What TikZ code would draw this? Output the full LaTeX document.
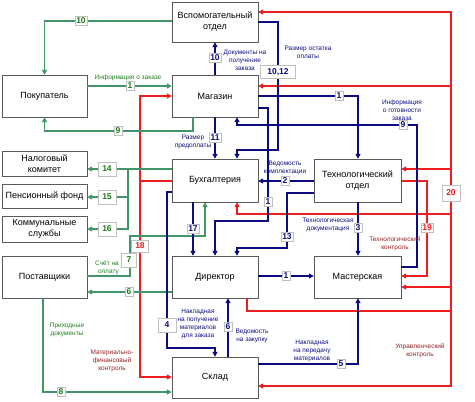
\documentclass[tikz,border=0pt]{standalone}
\usepackage{fontspec}
\setmainfont{Liberation Sans}
\usetikzlibrary{arrows.meta, positioning, calc, shadows}
\definecolor{flowGreen}{RGB}{64, 150, 105}
\definecolor{flowNavy}{RGB}{12, 12, 128}
\definecolor{ctrlRed}{RGB}{238, 30, 30}
\definecolor{numGreen}{RGB}{30, 125, 30}
\definecolor{noteRed}{RGB}{150, 30, 30}

\begin{document}
\begin{tikzpicture}[x=1pt, y=-1pt,
        unitNode/.style={rectangle, draw=black!65, fill=white, minimum width=86pt, minimum height=42pt, align=center, font=\fontsize{9}{11}\selectfont, drop shadow={shadow xshift=1.2pt, shadow yshift=-1.2pt, fill=black!30}},
        smallUnit/.style={unitNode, minimum height=25pt},
        numBox/.style={rectangle, fill=white, draw=black!25, inner sep=1.5pt, font=\bfseries\fontsize{8.5}{9}\selectfont},
        bigBox/.style={numBox, minimum width=18pt, minimum height=14pt},
        noteText/.style={align=center, inner sep=0pt, font=\fontsize{6.5}{7.8}\selectfont},
        flowArrow/.style={-{Triangle[width=5pt, length=5pt]}},
        greenLine/.style={flowGreen, line width=1.3pt},
        navyLine/.style={flowNavy, line width=1.3pt},
        redLine/.style={ctrlRed, line width=1.3pt}
    ]
        \useasboundingbox (0,0) rectangle (475,402);

        % units
        \node[unitNode, minimum height=40pt] (vsp) at (215,22) {Вспомогательный\\отдел};
        \node[unitNode, minimum width=85pt] (pok) at (44.5,96) {Покупатель};
        \node[unitNode] (mag) at (215,96) {Магазин};
        \node[smallUnit, minimum width=85pt] (nal) at (44.5,163.5) {Налоговый\\комитет};
        \node[smallUnit, minimum width=85pt, minimum height=24pt] (pens) at (44.5,196) {Пенсионный фонд};
        \node[smallUnit, minimum width=85pt, minimum height=24pt] (komm) at (44.5,229) {Коммунальные\\службы};
        \node[unitNode, minimum height=43pt] (buh) at (215,180.5) {Бухгалтерия};
        \node[unitNode, minimum width=87pt, minimum height=43pt] (tech) at (357.5,180.5) {Технологический\\отдел};
        \node[unitNode, minimum width=85pt] (post) at (44.5,277) {Поставщики};
        \node[unitNode] (dir) at (215,277) {Директор};
        \node[unitNode, minimum width=87pt] (mast) at (357.5,277) {Мастерская};
        \node[unitNode, minimum height=41pt] (sklad) at (215,377.5) {Склад};

        \coordinate (busX) at (451,0);
        \coordinate (finFork) at (140,181);
        \coordinate (taxFork) at (128,169);

        % control flows
        \draw[redLine, flowArrow] (dir.south -| 247,0) |- (busX |- 0,311) |- (vsp.east |- 0,12);
        \draw[redLine, flowArrow] (busX |- 0,86) -- (mag.east |- 0,86);
        \draw[redLine, flowArrow] (busX |- 0,169) -- (tech.east |- 0,169);
        \draw[redLine, flowArrow] (busX |- 0,214) -| (buh.south -| 237,0);
        \draw[redLine, flowArrow] (busX |- 0,287) -- (mast.east |- 0,287);
        \draw[redLine, flowArrow] (busX |- 0,311) |- (sklad.east |- 0,386);
        \draw[redLine, flowArrow] (tech.east |- 0,181) -| (427,276) -- (mast.east |- 0,276);
        \draw[redLine] (buh.west |- 0,181) -- (finFork);
        \draw[redLine, flowArrow] (finFork) |- (mag.west |- 0,96);
        \draw[redLine, flowArrow] (finFork) |- (sklad.west |- 0,377);

        % document flows
        \draw[greenLine, flowArrow] (vsp.west |- 0,21) -| (pok.north);
        \draw[greenLine, flowArrow] (pok.east |- 0,86) -- (mag.west |- 0,86);
        \draw[greenLine, flowArrow] (mag.south -| 193,0) -- (193,131) -| (pok.south);
        \draw[greenLine, flowArrow] (buh.west |- 0,169) -- (nal.east |- 0,169);
        \draw[greenLine, flowArrow] (taxFork) |- (komm.east |- 0,229);
        \draw[greenLine, flowArrow] (taxFork |- 0,197) -- (pens.east |- 0,197);
        \draw[greenLine, flowArrow] (post.east |- 0,276) -| (130,236) -| (buh.south -| 205,0);
        \draw[greenLine, flowArrow] (dir.west |- 0,292) -- (post.east |- 0,292);
        \draw[greenLine, flowArrow] (post.south -| 43,0) |- (sklad.west |- 0,392);

        \draw[navyLine, flowArrow] (mag.north -| 215,0) -- (vsp.south -| 215,0);
        \draw[navyLine, flowArrow] (mag.east |- 0,96) -| (tech.north -| 358,0);
        \draw[navyLine, flowArrow] (mag.east |- 0,108) -| (268,221) -| (dir.north -| 215,0);
        \draw[navyLine, flowArrow] (vsp.east |- 0,22) -| (278,150) -| (buh.north -| 237,0);
        \draw[navyLine, flowArrow] (mast.east |- 0,267) -| (417,125) -| (mag.south -| 237,0);
        \draw[navyLine, flowArrow] (mag.south -| 215,0) -- (buh.north -| 215,0);
        \draw[navyLine, flowArrow] (tech.west |- 0,181) -- (buh.east |- 0,181);
        \draw[navyLine, flowArrow] (tech.west |- 0,193) -| (287,248) -| (dir.north -| 237,0);
        \draw[navyLine, flowArrow] (tech.south -| 358,0) -- (mast.north -| 358,0);
        \draw[navyLine, flowArrow] (buh.south -| 193,0) -- (dir.north -| 193,0);
        \draw[navyLine, flowArrow] (buh.west |- 0,192) -| (167,348) -| (sklad.north -| 215,0);
        \draw[navyLine, flowArrow] (sklad.north -| 228,0) -- (dir.south -| 228,0);
        \draw[navyLine, flowArrow] (dir.east |- 0,276) -- (mast.west |- 0,276);
        \draw[navyLine, flowArrow] (sklad.east |- 0,364) -| (mast.south -| 358,0);

        % numbers
        \node[numBox, text=numGreen] (g10) at (81,21) {10};
        \node[numBox, text=numGreen] (g1) at (130,86) {1};
        \node[numBox, text=numGreen] (g9) at (118,131) {9};
        \node[bigBox, text=numGreen] (g14) at (107,169) {14};
        \node[bigBox, text=numGreen] (g15) at (107,197) {15};
        \node[bigBox, text=numGreen] (g16) at (107,229) {16};
        \node[bigBox, text=numGreen, minimum width=15pt] (g7) at (129,260) {7};
        \node[numBox, text=numGreen] (g6) at (129,292) {6};
        \node[numBox, text=numGreen] (g8) at (61,392) {8};
        \node[numBox, text=flowNavy] (b10) at (215,58) {10};
        \node[numBox, text=flowNavy, minimum width=35pt, minimum height=13pt] (b1012) at (278,72) {10,12};
        \node[numBox, text=flowNavy] (b1a) at (339,96) {1};
        \node[numBox, text=flowNavy] (b9) at (403,125) {9};
        \node[numBox, text=flowNavy] (b11) at (215,138) {11};
        \node[numBox, text=flowNavy] (b2) at (285,181) {2};
        \node[numBox, text=flowNavy] (b1b) at (268,202) {1};
        \node[numBox, text=flowNavy] (b17) at (193,229) {17};
        \node[numBox, text=flowNavy] (b3) at (358,228) {3};
        \node[numBox, text=flowNavy] (b13) at (287,237) {13};
        \node[numBox, text=flowNavy] (b1c) at (286,276) {1};
        \node[bigBox, text=flowNavy] (b4) at (167,325) {4};
        \node[numBox, text=flowNavy] (b6) at (228,327) {6};
        \node[numBox, text=flowNavy] (b5) at (341,364) {5};
        \node[numBox, text=ctrlRed, minimum width=17pt, minimum height=12pt] (r18) at (140,246) {18};
        \node[numBox, text=ctrlRed] (r19) at (427,228) {19};
        \node[bigBox, text=ctrlRed, minimum height=16pt] (r20) at (451,193) {20};

        % notes
        \node[noteText, text=numGreen] (tOrder) at (128,78) {Информация о заказе};
        \node[noteText, text=numGreen, align=right] (tBill) at (107,268) {Счёт на\\оплату};
        \node[noteText, text=numGreen] (tIncome) at (67,330) {Приходные\\документы};
        \node[noteText, text=flowNavy] (tDocs) at (245,60) {Документы на\\получение\\заказа};
        \node[noteText, text=flowNavy] (tRest) at (308,52) {Размер остатка\\оплаты};
        \node[noteText, text=flowNavy] (tReady) at (402,110) {Информация\\о готовности\\заказа};
        \node[noteText, text=flowNavy] (tPre) at (193,142) {Размер\\предоплаты};
        \node[noteText, text=flowNavy] (tKit) at (285,168) {Ведомость\\комплектации};
        \node[noteText, text=flowNavy] (tTech) at (328,225) {Технологическая\\документация};
        \node[noteText, text=flowNavy] (tInv) at (198,324) {Накладная\\на получение\\материалов\\для заказа};
        \node[noteText, text=flowNavy] (tBuy) at (252,336) {Ведомость\\на закупку};
        \node[noteText, text=flowNavy] (tPass) at (312,351) {Накладная\\на передачу\\материалов};
        \node[noteText, text=noteRed] (tFin) at (112,361) {Материально-\\финансовый\\контроль};
        \node[noteText, text=noteRed] (tTechCtrl) at (395,244) {Технологический\\контроль};
        \node[noteText, text=noteRed] (tMgmt) at (420,351) {Управленческий\\контроль};
    \end{tikzpicture}
\end{document}
